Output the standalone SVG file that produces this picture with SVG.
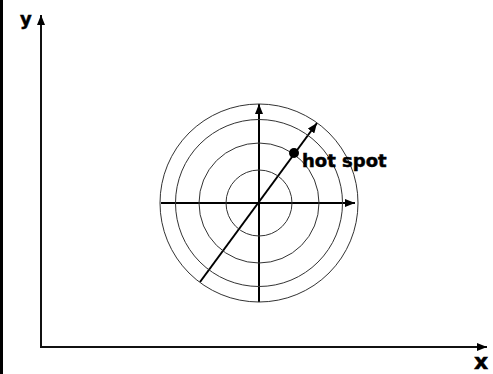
<svg xmlns="http://www.w3.org/2000/svg" width="493" height="374" viewBox="0 0 493 374">
<style>
.ax{stroke:#111;stroke-width:2;fill:none}
.ring{stroke:#333;stroke-width:1;fill:none}
.ln{stroke:#000;stroke-width:2;fill:none}
.lbl{font-family:"DejaVu Sans",sans-serif;font-weight:bold;fill:#000;stroke:#000;stroke-width:0.5}
</style>
<defs>
<marker id="ah" viewBox="0 0 10 8" refX="10" refY="4" markerWidth="5" markerHeight="4" orient="auto" markerUnits="strokeWidth">
<path d="M0,0 L10,4 L0,8 Z" fill="#000"/>
</marker>
</defs>
<rect x="0" y="0" width="493" height="374" fill="#fff"/>
<g id="frame"><line x1="1.5" y1="0" x2="1.5" y2="374" stroke="#000" stroke-width="3"/></g>
<g id="connectors">
<line class="ax" x1="41" y1="347" x2="41" y2="15" marker-end="url(#ah)"/>
<line class="ax" x1="40" y1="347" x2="487" y2="347" marker-end="url(#ah)"/>
<line class="ln" x1="259" y1="302" x2="259" y2="104" marker-end="url(#ah)"/>
<line class="ln" x1="161" y1="203" x2="355" y2="203" marker-end="url(#ah)"/>
<line class="ln" x1="200" y1="282" x2="317" y2="123" stroke-width="2.5" marker-end="url(#ah)"/>
</g>
<g id="rings">
<circle class="ring" cx="259" cy="203" r="33"/>
<circle class="ring" cx="259" cy="203" r="60"/>
<circle class="ring" cx="259" cy="203" r="83.5"/>
<circle class="ring" cx="259" cy="203" r="99"/>
</g>
<g id="hotspot">
<circle cx="294" cy="153" r="5" fill="#000"/>
<text class="lbl" x="302" y="167" font-size="18">hot spot</text>
</g>
<g id="labels">
<text class="lbl" x="20" y="25" font-size="18">y</text>
<text class="lbl" x="474" y="369" font-size="22">x</text>
</g>
</svg>
